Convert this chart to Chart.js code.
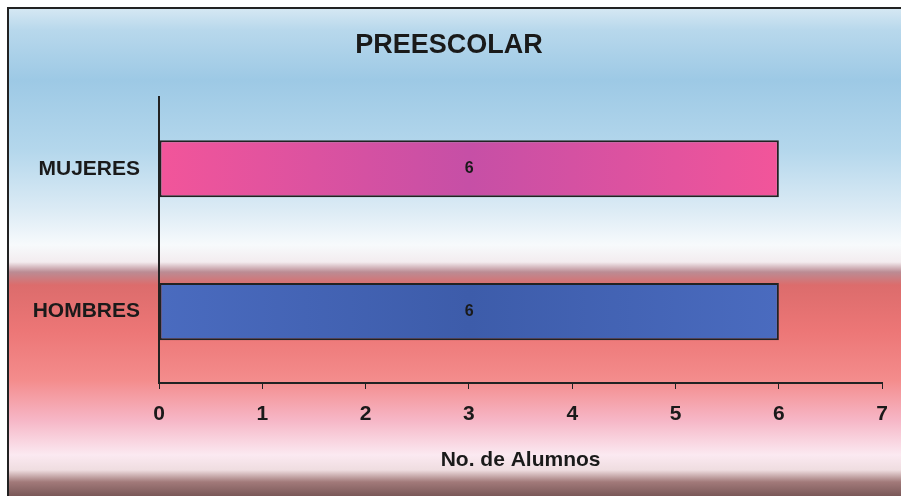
<!DOCTYPE html>
<html>
<head>
<meta charset="utf-8">
<script src="https://cdn.jsdelivr.net/npm/chart.js@4/dist/chart.umd.min.js"></script>
<style>
    html, body { margin: 0; padding: 0; background: #fff; }
    #wrap { width: 901px; height: 496px; }
</style>
</head>
<body>
<div id="wrap"><canvas id="chart"></canvas></div>
<script>
// Chart data
const chartTitle = 'PREESCOLAR';
const categories = ['MUJERES', 'HOMBRES'];
const values = [6, 6];
const xTitle = 'No. de Alumnos';
const xMin = 0;
const xMax = 7;

const FONT = "'Liberation Sans', Arial, sans-serif";

// background of the whole frame
const backdrop = {
    id: 'backdrop',
    beforeDraw(chart) {
        const ctx = chart.ctx;
        const w = chart.width, h = chart.height;
        ctx.save();
        ctx.fillStyle = '#ffffff';
        ctx.fillRect(0, 0, w, h);
        const g = ctx.createLinearGradient(0, 8, 0, h);
        const stops = [
            [8, '#d6e8f3'], [30, '#b8d8ec'], [80, '#9dc9e5'], [150, '#b4d7ec'],
            [210, '#dcebf5'], [245, '#f7fafc'], [262, '#f3ecef'], [272, '#bb8c94'],
            [285, '#dc6c6c'], [330, '#ec7676'], [380, '#f48c8c'], [420, '#f6b6c6'],
            [455, '#fbe9f1'], [470, '#efdde0'], [482, '#a27a7a'], [496, '#7a5858']
        ];
        stops.forEach(([y, c]) => g.addColorStop((y - 8) / (h - 8), c));
        ctx.fillStyle = g;
        ctx.fillRect(8, 8, w - 8, h - 8);
        ctx.strokeStyle = '#222';
        ctx.lineWidth = 2;
        ctx.beginPath();
        ctx.moveTo(8, h);
        ctx.lineTo(8, 8);
        ctx.lineTo(w, 8);
        ctx.stroke();
        ctx.restore();
    }
};

// value label in the middle of each bar
const midLabels = {
    id: 'midLabels',
    afterDatasetsDraw(chart) {
        const ctx = chart.ctx;
        const meta = chart.getDatasetMeta(0);
        ctx.save();
        ctx.font = 'bold 16px ' + FONT;
        ctx.fillStyle = '#1a1a1a';
        ctx.textAlign = 'center';
        ctx.textBaseline = 'middle';
        meta.data.forEach((bar, i) => {
            ctx.fillText(values[i], (bar.x + bar.base) / 2, bar.y);
        });
        ctx.restore();
    }
};

function barFill(context) {
    const chart = context.chart;
    const area = chart.chartArea;
    if (!area) return null;
    const g = chart.ctx.createLinearGradient(area.left, 0, chart.scales.x.getPixelForValue(values[context.dataIndex]), 0);
    if (context.dataIndex === 0) {
        g.addColorStop(0, '#f2559a');
        g.addColorStop(0.5, '#c64fa6');
        g.addColorStop(1, '#f2559a');
    } else {
        g.addColorStop(0, '#4a6bbf');
        g.addColorStop(0.5, '#3d5caa');
        g.addColorStop(1, '#4a6bbf');
    }
    return g;
}

new Chart(document.getElementById('chart'), {
    type: 'bar',
    data: {
        labels: categories,
        datasets: [{
            data: values,
            backgroundColor: barFill,
            borderColor: '#222',
            borderWidth: 2,
            borderSkipped: false,
            barPercentage: 0.4,
            categoryPercentage: 1
        }]
    },
    options: {
        indexAxis: 'y',
        responsive: true,
        maintainAspectRatio: false,
        animation: false,
        layout: { padding: { left: 8, right: 11, top: 0, bottom: 0 } },
        plugins: {
            legend: { display: false },
            tooltip: { enabled: false },
            title: {
                display: true,
                text: chartTitle,
                color: '#1a1a1a',
                font: { family: FONT, size: 27, weight: 'bold' },
                padding: { top: 29, bottom: 36 }
            }
        },
        scales: {
            x: {
                min: xMin,
                max: xMax,
                afterFit: s => { s.height = 113; },
                grid: { display: true, drawOnChartArea: false, drawTicks: true, tickLength: 6, tickColor: '#222' },
                border: { display: true, color: '#222', width: 2 },
                ticks: {
                    stepSize: 1,
                    padding: 13,
                    color: '#1a1a1a',
                    font: { family: FONT, size: 21, weight: 'bold' }
                },
                title: {
                    display: true,
                    text: xTitle,
                    color: '#1a1a1a',
                    font: { family: FONT, size: 21, weight: 'bold' },
                    padding: { top: 0, bottom: 23 }
                }
            },
            y: {
                afterFit: s => { s.width = 151; },
                grid: { display: false, drawTicks: false },
                border: { display: true, color: '#222', width: 2 },
                ticks: {
                    padding: 19,
                    color: '#1a1a1a',
                    font: { family: FONT, size: 21, weight: 'bold' }
                }
            }
        }
    },
    plugins: [backdrop, midLabels]
});
</script>
</body>
</html>
